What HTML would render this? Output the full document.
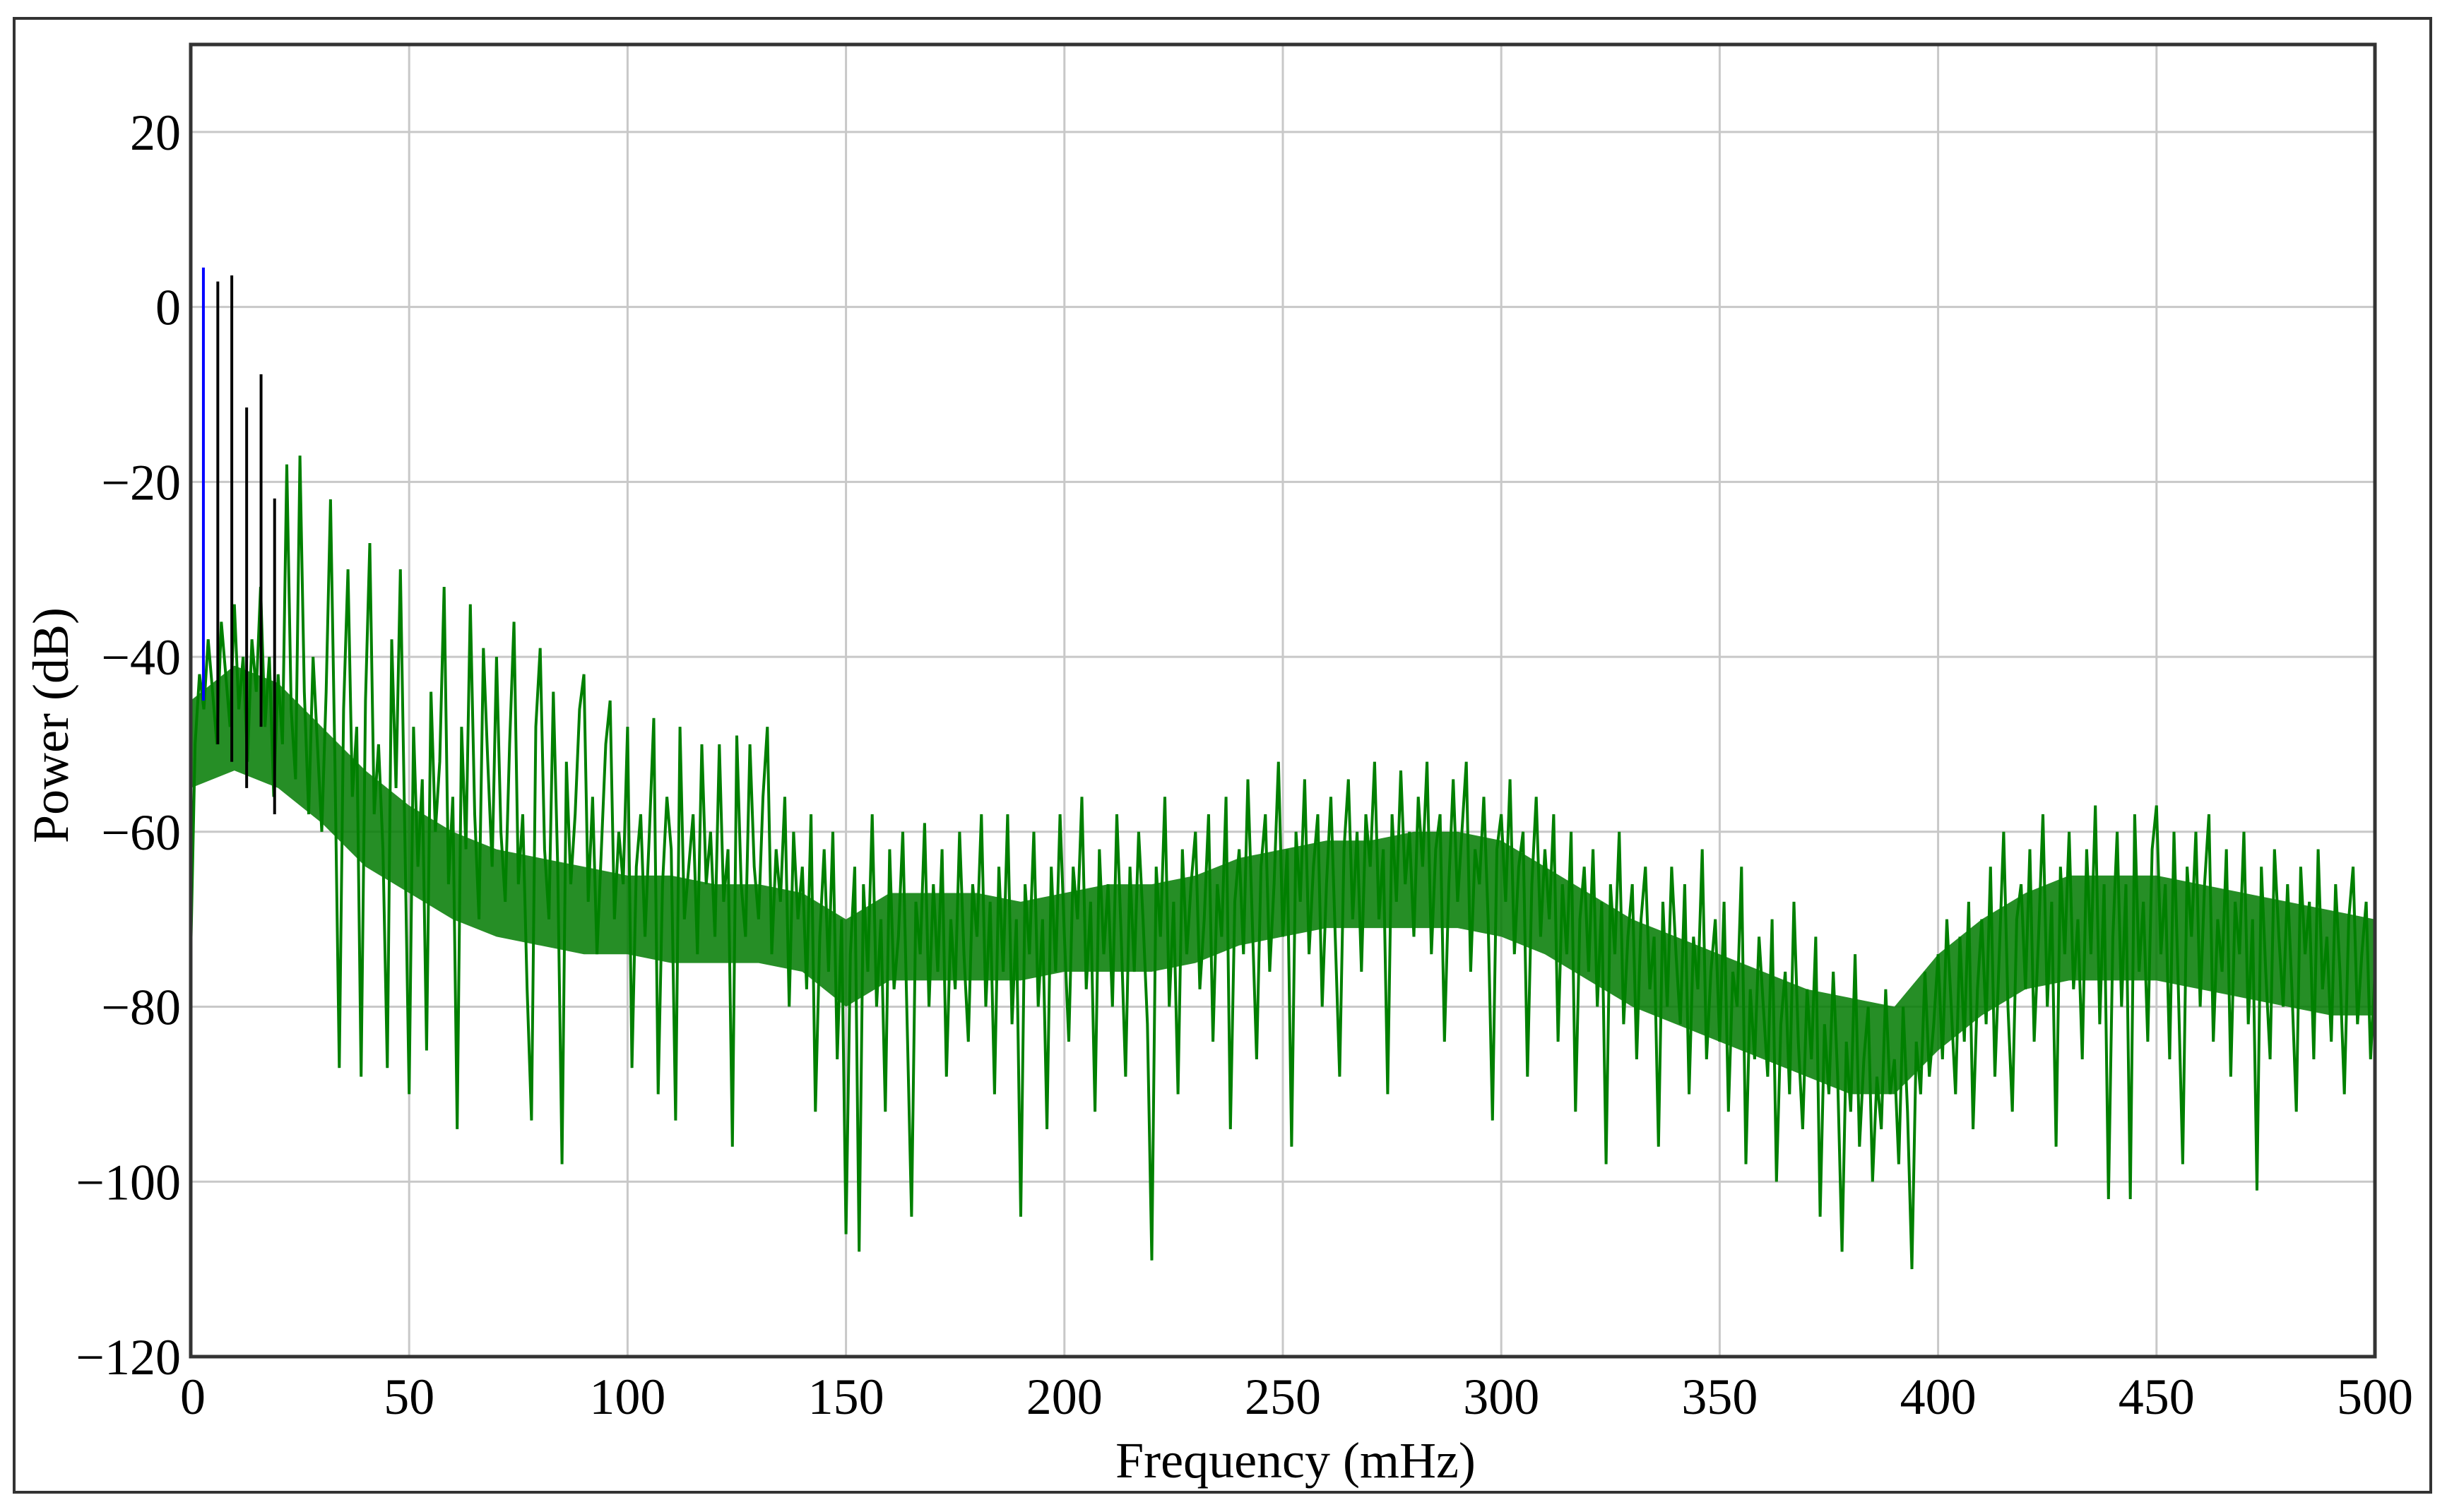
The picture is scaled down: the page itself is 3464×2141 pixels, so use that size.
<!DOCTYPE html>
<html><head><meta charset="utf-8"><style>
html,body{margin:0;padding:0;background:#fff;}
svg{display:block;}
text{font-family:"Liberation Serif","Times New Roman",serif;fill:#000;}
</style></head><body>
<svg id="chart" width="3464" height="2141" viewBox="0 0 3464 2141" xmlns="http://www.w3.org/2000/svg">
<rect x="0" y="0" width="3464" height="2141" fill="#fff"/>
<rect x="20" y="26" width="3421" height="2087" fill="none" stroke="#333" stroke-width="4"/>
<g id="grid"></g>
<g id="series"></g>
<rect x="270" y="63" width="3092" height="1858" fill="none" stroke="#333" stroke-width="5"/>
<g id="ticks"></g>
<text x="1834" y="2092" font-size="72" text-anchor="middle">Frequency (mHz)</text>
<text x="0" y="0" font-size="72" text-anchor="middle" transform="translate(96,1027) rotate(-90)">Power (dB)</text>
</svg>
<script>
const xTicks = [0, 50, 100, 150, 200, 250, 300, 350, 400, 450, 500];
const yTicks = [20, 0, -20, -40, -60, -80, -100, -120];
const yTickLabels = ["20", "0", "\u221220", "\u221240", "\u221260", "\u221280", "\u2212100", "\u2212120"];
const blueFreq = [2.9];
const blueTop = [4.5];
const blueBase = [-45];
const blackFreq = [6.2, 9.4, 12.8, 16.1, 19.2];
const blackTop = [2.9, 3.6, -11.5, -7.7, -21.9];
const blackBase = [-50, -52, -55, -48, -58];
const coreFreq = [0,10,20,30,40,50,60,70,80,90,100,110,120,130,140,150,160,170,180,190,200,210,220,230,240,250,260,270,280,290,300,310,320,330,340,350,360,370,380,390,400,410,420,430,440,450,460,470,480,490,500];
const coreHi = [-45,-41,-43,-48,-53,-57,-60,-62,-63,-64,-65,-65,-66,-66,-67,-70,-67,-67,-67,-68,-67,-66,-66,-65,-63,-62,-61,-61,-60,-60,-61,-64,-67,-70,-72,-74,-76,-78,-79,-80,-74,-70,-67,-65,-65,-65,-66,-67,-68,-69,-70];
const coreLo = [-55,-53,-55,-59,-64,-67,-70,-72,-73,-74,-74,-75,-75,-75,-76,-80,-77,-77,-77,-77,-76,-76,-76,-75,-73,-72,-71,-71,-71,-71,-72,-74,-77,-80,-82,-84,-86,-88,-90,-90,-85,-81,-78,-77,-77,-77,-78,-79,-80,-81,-81];
const greenStartFreq = 0;
const greenStep = 1;
const greenPower = [
-74,-50,-42,-46,-38,-44,-50,-36,-42,-48,
-34,-46,-40,-52,-38,-44,-32,-48,-40,-56,
-42,-50,-18,-46,-54,-17,-44,-58,-40,-50,
-60,-44,-22,-52,-87,-46,-30,-56,-48,-88,
-45,-27,-58,-50,-62,-87,-38,-55,-30,-60,
-90,-48,-64,-54,-85,-44,-60,-52,-32,-66,
-56,-94,-48,-62,-34,-58,-70,-39,-52,-64,
-40,-60,-68,-50,-36,-66,-58,-78,-93,-48,
-39,-62,-70,-44,-64,-98,-52,-66,-58,-46,
-42,-68,-56,-74,-62,-50,-45,-70,-60,-66,
-48,-87,-64,-58,-72,-60,-47,-90,-66,-56,
-62,-93,-48,-70,-64,-58,-74,-50,-66,-60,
-72,-50,-68,-62,-96,-49,-66,-72,-50,-64,
-70,-56,-48,-74,-62,-68,-56,-80,-60,-70,
-64,-78,-58,-92,-72,-62,-76,-60,-86,-70,
-106,-74,-64,-108,-66,-76,-58,-80,-70,-92,
-62,-78,-72,-60,-82,-104,-68,-74,-59,-80,
-66,-76,-62,-88,-70,-78,-60,-74,-84,-66,
-72,-58,-80,-68,-90,-64,-76,-58,-82,-70,
-104,-66,-74,-60,-80,-70,-94,-64,-76,-58,
-72,-84,-64,-70,-56,-78,-68,-92,-62,-74,
-66,-80,-58,-72,-88,-64,-76,-60,-70,-82,
-109,-64,-72,-56,-80,-68,-90,-62,-74,-66,
-60,-78,-70,-58,-84,-66,-72,-56,-94,-68,
-62,-74,-54,-70,-86,-64,-58,-76,-66,-52,
-72,-62,-96,-60,-68,-54,-74,-64,-58,-80,
-66,-56,-72,-88,-62,-54,-70,-60,-76,-58,
-64,-52,-70,-62,-90,-58,-68,-53,-66,-60,
-72,-56,-64,-52,-74,-62,-58,-84,-66,-54,
-68,-60,-52,-76,-62,-66,-56,-70,-93,-62,
-58,-68,-54,-74,-64,-60,-88,-66,-56,-72,
-62,-70,-58,-84,-66,-74,-60,-92,-70,-64,
-76,-62,-80,-68,-98,-66,-74,-60,-82,-72,
-66,-86,-70,-64,-78,-72,-96,-68,-80,-64,
-74,-82,-66,-90,-72,-78,-62,-86,-76,-70,
-84,-68,-92,-76,-80,-64,-98,-78,-86,-72,
-80,-88,-70,-100,-82,-76,-90,-68,-84,-94,
-78,-86,-72,-104,-82,-90,-76,-88,-108,-84,
-92,-74,-96,-86,-80,-100,-88,-94,-78,-90,
-86,-98,-80,-92,-110,-84,-90,-76,-88,-82,
-74,-86,-70,-80,-90,-72,-84,-68,-94,-78,
-70,-82,-64,-88,-74,-60,-80,-92,-70,-66,
-78,-62,-84,-72,-58,-80,-68,-96,-64,-74,
-60,-78,-70,-86,-62,-74,-57,-82,-66,-102,
-72,-60,-80,-66,-102,-58,-76,-68,-84,-62,
-57,-74,-66,-86,-60,-78,-98,-64,-72,-60,
-80,-66,-58,-84,-70,-76,-62,-88,-68,-74,
-60,-82,-70,-101,-64,-76,-86,-62,-72,-80,
-66,-78,-92,-64,-74,-68,-86,-62,-78,-72,
-84,-66,-76,-90,-70,-64,-82,-74,-68,-86,
-76
];

const NS = "http://www.w3.org/2000/svg";
const X0 = 270, X1 = 3362, Y0 = 1921, Y1 = 63;
const xMin = 0, xMax = 500, yMin = -120, yMax = 30;
function xs(v){ return X0 + (v - xMin) / (xMax - xMin) * (X1 - X0); }
function ys(v){ return Y0 - (v - yMin) / (yMax - yMin) * (Y0 - Y1); }
function mk(tag, attrs){ const e = document.createElementNS(NS, tag); for (const k in attrs) e.setAttribute(k, attrs[k]); return e; }

const grid = document.getElementById('grid');
const ticks = document.getElementById('ticks');
const series = document.getElementById('series');

xTicks.forEach((t) => {
  if (t > xMin && t < xMax) {
    const l = mk('line', {x1: xs(t), x2: xs(t), y1: Y1, y2: Y0, stroke: '#c8c8c8', 'stroke-width': 3});
    
    
    grid.appendChild(l);
  }
  const tx = mk('text', {x: xs(t) + (t === 0 ? 3 : 0), y: 2002, 'font-size': 72, 'text-anchor': 'middle'});
  tx.textContent = String(t);
  
  
  ticks.appendChild(tx);
});
yTicks.forEach((t, i) => {
  if (t > yMin && t < yMax) {
    const l = mk('line', {x1: X0, x2: X1, y1: ys(t), y2: ys(t), stroke: '#c8c8c8', 'stroke-width': 3});
    
    
    grid.appendChild(l);
  }
  const tx = mk('text', {x: 256, y: ys(t) + 25, 'font-size': 72, 'text-anchor': 'end'});
  tx.textContent = yTickLabels[i];
  
  
  ticks.appendChild(tx);
});

// dense core band of the green spectrum
const bandPts = [];
coreFreq.forEach((f, i) => { bandPts.push(xs(f).toFixed(1) + ',' + ys(coreHi[i]).toFixed(1)); });
for (let i = coreFreq.length - 1; i >= 0; i--) { bandPts.push(xs(coreFreq[i]).toFixed(1) + ',' + ys(coreLo[i]).toFixed(1)); }
const band = mk('polygon', {points: bandPts.join(' '), fill: '#007a00', 'fill-opacity': 0.85, stroke: 'none'});


series.appendChild(band);

// green spectrum line
const pts = [];
greenPower.forEach((p, i) => {
  const f = greenStartFreq + i * greenStep;
  pts.push(xs(f).toFixed(1) + ',' + ys(p).toFixed(1));
});
const gl = mk('polyline', {points: pts.join(' '), fill: 'none', stroke: '#008000', 'stroke-width': 4});


series.appendChild(gl);

// black harmonic spikes
blackFreq.forEach((f, i) => {
  const l = mk('line', {x1: xs(f), x2: xs(f), y1: ys(blackBase[i]), y2: ys(blackTop[i]), stroke: '#000', 'stroke-width': 4});
  
  
  series.appendChild(l);
});
// blue fundamental spike
blueFreq.forEach((f, i) => {
  const l = mk('line', {x1: xs(f), x2: xs(f), y1: ys(blueBase[i]), y2: ys(blueTop[i]), stroke: '#0000ff', 'stroke-width': 4});
  
  
  series.appendChild(l);
});
</script>
</body></html>
